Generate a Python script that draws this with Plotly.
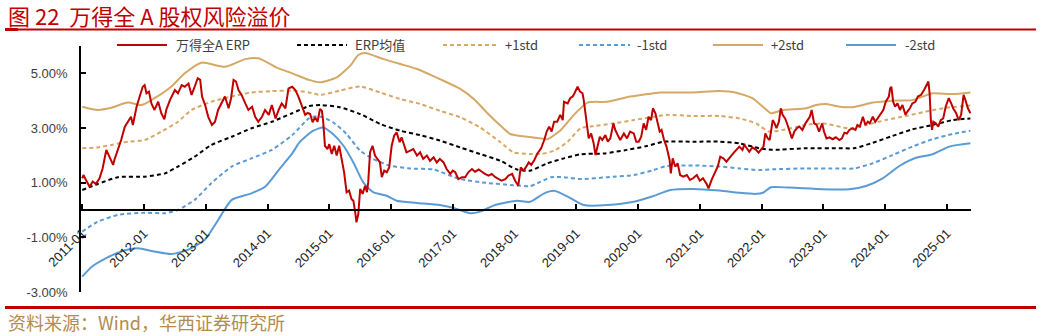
import plotly.graph_objects as go

# ---------------- data (decimal year, % value) ----------------
erp_dates = [
    2011.00, 2011.02, 2011.06, 2011.12, 2011.17, 2011.22, 2011.28, 2011.33, 2011.39, 2011.44,
    2011.50, 2011.52, 2011.58, 2011.63, 2011.69, 2011.74, 2011.79, 2011.82, 2011.88, 2011.93,
    2011.98, 2012.01, 2012.04, 2012.08, 2012.12, 2012.17, 2012.23, 2012.28, 2012.33, 2012.36,
    2012.42, 2012.50, 2012.55, 2012.61, 2012.66, 2012.72, 2012.77, 2012.82, 2012.87, 2012.91,
    2012.94, 2012.99, 2013.04, 2013.10, 2013.15, 2013.20, 2013.26, 2013.31, 2013.37, 2013.41,
    2013.45, 2013.49, 2013.53, 2013.58, 2013.64, 2013.69, 2013.75, 2013.80, 2013.85, 2013.91,
    2013.96, 2014.02, 2014.07, 2014.13, 2014.18, 2014.23, 2014.29, 2014.34, 2014.40, 2014.45,
    2014.50, 2014.56, 2014.61, 2014.65, 2014.69, 2014.73, 2014.77, 2014.81, 2014.85, 2014.88,
    2014.90, 2014.93, 2014.97, 2015.00, 2015.04, 2015.08, 2015.12, 2015.16, 2015.20, 2015.24,
    2015.28, 2015.32, 2015.36, 2015.39, 2015.42, 2015.44, 2015.47, 2015.50, 2015.54, 2015.58,
    2015.61, 2015.63, 2015.66, 2015.70, 2015.74, 2015.78, 2015.82, 2015.85, 2015.89, 2015.93,
    2015.97, 2016.01, 2016.05, 2016.09, 2016.14, 2016.17, 2016.21, 2016.25, 2016.31, 2016.36,
    2016.42, 2016.47, 2016.52, 2016.58, 2016.63, 2016.69, 2016.74, 2016.79, 2016.85, 2016.90,
    2016.96, 2017.00, 2017.04, 2017.09, 2017.15, 2017.20, 2017.25, 2017.31, 2017.36, 2017.42,
    2017.47, 2017.52, 2017.58, 2017.63, 2017.69, 2017.74, 2017.79, 2017.85, 2017.90, 2017.96,
    2018.01, 2018.06, 2018.10, 2018.15, 2018.19, 2018.23, 2018.27, 2018.32, 2018.37, 2018.43,
    2018.48, 2018.52, 2018.56, 2018.60, 2018.64, 2018.69, 2018.74, 2018.78, 2018.80, 2018.86,
    2018.90, 2018.94, 2018.97, 2019.02, 2019.06, 2019.10, 2019.12, 2019.15, 2019.18, 2019.20,
    2019.24, 2019.28, 2019.31, 2019.34, 2019.38, 2019.42, 2019.47, 2019.51, 2019.55, 2019.60,
    2019.63, 2019.67, 2019.71, 2019.77, 2019.82, 2019.87, 2019.93, 2019.97, 2020.01, 2020.05,
    2020.09, 2020.13, 2020.17, 2020.21, 2020.24, 2020.28, 2020.31, 2020.35, 2020.38, 2020.42,
    2020.46, 2020.51, 2020.53, 2020.56, 2020.60, 2020.64, 2020.68, 2020.73, 2020.79, 2020.84,
    2020.89, 2020.95, 2021.00, 2021.05, 2021.11, 2021.14, 2021.19, 2021.24, 2021.29, 2021.33,
    2021.38, 2021.43, 2021.48, 2021.54, 2021.59, 2021.64, 2021.69, 2021.72, 2021.76, 2021.80,
    2021.85, 2021.91, 2021.95, 2021.99, 2022.03, 2022.06, 2022.10, 2022.13, 2022.18, 2022.21,
    2022.24, 2022.28, 2022.31, 2022.34, 2022.38, 2022.42, 2022.46, 2022.49, 2022.53, 2022.57,
    2022.61, 2022.66, 2022.71, 2022.74, 2022.78, 2022.81, 2022.85, 2022.89, 2022.93, 2022.98,
    2023.01, 2023.05, 2023.10, 2023.15, 2023.20, 2023.26, 2023.30, 2023.34, 2023.38, 2023.42,
    2023.47, 2023.52, 2023.55, 2023.59, 2023.64, 2023.68, 2023.72, 2023.75, 2023.80, 2023.84,
    2023.88, 2023.93, 2023.97, 2024.01, 2024.06, 2024.08, 2024.10, 2024.13, 2024.16, 2024.20,
    2024.24, 2024.28, 2024.33, 2024.36, 2024.40, 2024.44, 2024.49, 2024.53, 2024.58, 2024.63,
    2024.67, 2024.70, 2024.72, 2024.74, 2024.76, 2024.78, 2024.82, 2024.86, 2024.90, 2024.94,
    2024.98, 2025.03, 2025.07, 2025.10, 2025.15, 2025.19, 2025.23, 2025.27, 2025.30, 2025.34,
    2025.38,
]
erp_values = [
    1.16, 1.28, 1.10, 0.85, 1.04, 0.95, 1.16, 1.52, 2.20, 1.95,
    1.65, 1.83, 2.20, 2.56, 3.05, 3.23, 3.41, 3.11, 3.78, 4.15,
    4.51, 4.57, 4.27, 4.33, 3.90, 3.66, 3.96, 3.54, 3.32, 3.66,
    4.02, 4.39, 4.27, 4.57, 4.51, 4.63, 4.21, 4.51, 4.82, 4.76,
    4.15, 3.84, 3.41, 3.11, 3.23, 3.66, 3.90, 4.15, 3.72, 4.09,
    4.76, 4.70, 4.39, 4.21, 3.90, 3.66, 3.78, 3.41, 3.23, 3.41,
    3.66, 3.48, 3.84, 3.35, 3.66, 3.90, 3.72, 4.45, 4.51, 4.39,
    4.15, 3.78, 3.48, 3.55, 3.51, 3.21, 3.39, 3.23, 3.70, 3.63,
    3.27, 2.35, 2.23, 2.41, 2.05, 2.35, 1.99, 2.35, 1.87, 1.38,
    0.65, 0.71, 0.40, 0.34, -0.09, -0.45, -0.15, 0.77, 0.59, 0.89,
    0.65, 1.01, 2.11, 2.35, 1.99, 1.87, 1.74, 1.20, 1.44, 1.38,
    1.56, 2.35, 2.72, 2.84, 2.48, 2.66, 2.41, 2.11, 2.17, 2.23,
    1.99, 2.11, 1.87, 1.99, 1.80, 1.93, 1.74, 1.87, 1.74, 1.50,
    1.32, 1.44, 1.38, 1.13, 1.20, 1.20, 1.38, 1.50, 1.40, 1.48,
    1.40, 1.32, 1.26, 1.32, 1.20, 1.13, 1.07, 1.13, 1.26, 1.32,
    1.07, 0.89, 1.56, 1.44, 1.62, 1.74, 1.65, 1.83, 2.07, 2.26,
    2.56, 2.87, 3.05, 2.87, 3.23, 3.23, 3.48, 3.29, 3.96, 3.90,
    4.09, 4.15, 4.27, 4.51, 4.33, 4.27, 4.02, 3.48, 2.87, 2.62,
    2.80, 2.44, 2.01, 2.32, 2.68, 2.56, 2.74, 2.50, 2.62, 3.17,
    2.93, 2.74, 2.56, 2.80, 2.62, 2.87, 2.80, 2.50, 2.50, 2.68,
    3.17, 2.93, 3.41, 3.29, 3.72, 3.54, 3.29, 2.87, 2.93, 2.56,
    2.32, 1.83, 1.34, 1.89, 1.59, 1.71, 1.28, 1.22, 1.28, 1.10,
    1.16, 1.28, 1.07, 1.16, 0.95, 0.79, 1.10, 1.34, 1.59, 1.95,
    1.89, 1.77, 1.89, 2.07, 2.20, 2.32, 2.20, 2.38, 2.26, 2.13,
    2.29, 2.20, 2.10, 2.22, 2.32, 2.80, 2.62, 2.56, 3.29, 3.17,
    2.99, 3.23, 3.72, 3.48, 3.35, 3.11, 2.87, 2.62, 2.87, 2.99,
    3.05, 2.93, 3.17, 3.29, 3.41, 3.66, 3.17, 3.11, 2.87, 3.17,
    2.87, 2.62, 2.66, 2.59, 2.66, 2.56, 2.62, 2.83, 2.80, 2.93,
    2.99, 2.93, 3.11, 3.05, 3.41, 3.11, 3.23, 3.17, 3.41, 3.23,
    3.35, 3.54, 3.66, 3.96, 4.15, 4.45, 4.51, 3.96, 3.78, 3.90,
    3.66, 3.84, 3.48, 3.60, 3.72, 3.90, 3.96, 4.15, 4.21, 4.39,
    4.57, 4.70, 4.27, 3.29, 2.93, 3.23, 3.17, 3.05, 3.29, 3.35,
    3.78, 4.09, 3.90, 3.72, 3.54, 3.29, 3.48, 4.21, 4.02, 3.72,
    3.54,
]

mean_dates = [2011.00, 2011.25, 2011.58, 2012.01, 2012.34, 2012.55, 2012.82, 2013.09, 2013.42, 2013.74,
              2014.07, 2014.40, 2014.67, 2014.85, 2015.17, 2015.50, 2015.82, 2016.15, 2016.47, 2016.79,
              2017.12, 2017.44, 2017.77, 2018.04, 2018.25, 2018.53, 2018.80, 2019.07, 2019.45, 2019.82,
              2020.14, 2020.41, 2020.89, 2021.32, 2021.64, 2021.96, 2022.18, 2022.72, 2023.26, 2023.50,
              2023.80, 2024.12, 2024.44, 2024.77, 2025.09, 2025.38]
mean_values = [0.73, 0.95, 1.20, 1.22, 1.34, 1.59, 1.95, 2.38, 2.68, 2.99,
               3.23, 3.54, 3.80, 3.84, 3.76, 3.51, 3.15, 2.90, 2.74, 2.54,
               2.29, 2.05, 1.80, 1.48, 1.44, 1.71, 1.89, 2.04, 2.07, 2.20,
               2.34, 2.50, 2.50, 2.50, 2.44, 2.26, 2.20, 2.26, 2.26, 2.26,
               2.46, 2.71, 2.95, 3.11, 3.29, 3.35]

plus1_dates = [2011.00, 2011.25, 2011.47, 2011.74, 2012.01, 2012.28, 2012.55, 2012.77, 2013.09, 2013.42,
               2013.74, 2014.07, 2014.40, 2014.67, 2014.85, 2015.17, 2015.50, 2015.82, 2016.15, 2016.47,
               2016.79, 2017.12, 2017.44, 2017.77, 2017.98, 2018.25, 2018.43, 2018.64, 2018.86, 2019.07,
               2019.28, 2019.61, 2019.93, 2020.25, 2020.46, 2020.89, 2021.32, 2021.64, 2021.91, 2022.12,
               2022.34, 2022.72, 2022.99, 2023.42, 2023.69, 2024.01, 2024.34, 2024.66, 2024.98, 2025.38]
plus1_values = [2.26, 2.29, 2.38, 2.50, 2.56, 2.87, 3.23, 3.66, 3.96, 4.15,
                4.30, 4.35, 4.37, 4.30, 4.21, 4.37, 4.52, 4.30, 4.06, 3.88,
                3.63, 3.39, 3.02, 2.48, 2.11, 2.05, 2.05, 2.17, 2.50, 2.99,
                3.07, 3.17, 3.29, 3.41, 3.48, 3.44, 3.44, 3.35, 3.17, 2.87,
                2.93, 3.11, 3.17, 2.99, 3.11, 3.29, 3.44, 3.60, 3.74, 3.82]

minus1_dates = [2011.00, 2011.25, 2011.58, 2012.01, 2012.34, 2012.55, 2012.82, 2013.09, 2013.42, 2013.74,
                2014.07, 2014.40, 2014.67, 2014.79, 2014.90, 2015.06, 2015.28, 2015.50, 2015.71, 2015.98,
                2016.31, 2016.69, 2017.12, 2017.55, 2017.98, 2018.25, 2018.37, 2018.59, 2018.80, 2019.07,
                2019.50, 2019.93, 2020.25, 2020.46, 2020.89, 2021.32, 2021.64, 2021.96, 2022.18, 2022.72,
                2023.26, 2023.50, 2023.80, 2024.12, 2024.44, 2024.77, 2025.09, 2025.38]
minus1_values = [-0.79, -0.43, -0.18, -0.10, -0.12, 0.00, 0.37, 0.98, 1.59, 1.89,
                 2.20, 2.74, 3.35, 3.43, 3.39, 3.21, 2.78, 2.17, 1.87, 1.62,
                 1.52, 1.48, 1.13, 0.99, 0.91, 0.87, 0.98, 1.20, 1.20, 1.13,
                 1.20, 1.28, 1.46, 1.61, 1.63, 1.59, 1.52, 1.46, 1.49, 1.52,
                 1.52, 1.52, 1.71, 2.01, 2.32, 2.59, 2.78, 2.90]

plus2_dates = [2011.00, 2011.25, 2011.47, 2011.74, 2011.96, 2012.17, 2012.44, 2012.66, 2012.93, 2013.31,
               2013.64, 2013.85, 2014.18, 2014.40, 2014.67, 2014.85, 2015.12, 2015.34, 2015.47, 2015.58,
               2015.88, 2016.15, 2016.42, 2016.79, 2017.12, 2017.34, 2017.55, 2017.77, 2017.93, 2018.10,
               2018.43, 2018.53, 2018.75, 2018.96, 2019.18, 2019.50, 2019.87, 2020.25, 2020.36, 2020.89,
               2021.32, 2021.59, 2021.85, 2022.02, 2022.15, 2022.34, 2022.72, 2022.88, 2023.05, 2023.26,
               2023.47, 2023.80, 2024.12, 2024.44, 2024.77, 2025.09, 2025.38]
plus2_values = [3.78, 3.66, 3.74, 3.93, 3.84, 4.09, 4.51, 5.00, 5.39, 5.24,
                5.52, 5.55, 5.18, 5.00, 4.76, 4.67, 4.85, 5.28, 5.67, 5.74,
                5.52, 5.34, 5.16, 4.79, 4.43, 4.06, 3.57, 3.09, 2.78, 2.71,
                2.62, 2.59, 2.93, 3.48, 3.93, 3.96, 4.15, 4.27, 4.30, 4.30,
                4.35, 4.29, 4.09, 3.78, 3.54, 3.66, 3.72, 3.84, 3.88, 3.78,
                3.76, 3.93, 4.00, 4.02, 4.27, 4.24, 4.30]

minus2_dates = [2011.00, 2011.16, 2011.38, 2011.63, 2011.90, 2012.17, 2012.44, 2012.71, 2012.98, 2013.20,
                2013.42, 2013.74, 2013.96, 2014.18, 2014.40, 2014.52, 2014.74, 2014.90, 2015.06, 2015.23,
                2015.39, 2015.55, 2015.71, 2015.93, 2016.09, 2016.42, 2016.79, 2017.06, 2017.28, 2017.44,
                2017.66, 2017.88, 2018.04, 2018.25, 2018.48, 2018.64, 2018.86, 2019.12, 2019.50, 2019.93,
                2020.25, 2020.52, 2020.89, 2021.32, 2021.64, 2021.91, 2022.02, 2022.15, 2022.45, 2022.99,
                2023.42, 2023.69, 2023.96, 2024.23, 2024.50, 2024.77, 2025.04, 2025.38]
minus2_values = [-2.44, -2.07, -1.77, -1.52, -1.40, -1.52, -1.61, -1.46, -1.10, -0.37,
                 0.37, 0.61, 0.85, 1.46, 2.07, 2.48, 2.90, 3.02, 2.78, 2.35,
                 1.74, 1.01, 0.65, 0.52, 0.34, 0.26, 0.18, 0.04, -0.12, -0.06,
                 0.16, 0.28, 0.34, 0.30, 0.61, 0.70, 0.49, 0.18, 0.18, 0.30,
                 0.51, 0.73, 0.77, 0.71, 0.63, 0.59, 0.63, 0.83, 0.82, 0.76,
                 0.76, 0.88, 1.16, 1.61, 1.91, 2.04, 2.32, 2.44]

x_tick_years = list(range(2011, 2026))
x_tick_labels = [f"{y}-01" for y in x_tick_years]
y_tick_vals = [-3, -1, 1, 3, 5]
y_tick_labels = ["-3.00%", "-1.00%", "1.00%", "3.00%", "5.00%"]

# ---------------- styling ----------------
RED = "#C00000"
TAN = "#D6A866"
BLUE = "#5B9BD5"
DASH = "4px,3px"

W, H = 1053, 336
ML, MR, MT, MB = 81, 82, 46, 44
PW, PH = W - ML - MR, H - MT - MB


def px(x):
    return (x - ML) / PW


def py(y):
    return (H - MB - y) / PH


fig = go.Figure()

bands = [
    (plus2_dates, plus2_values, TAN, "solid", "+2std"),
    (minus2_dates, minus2_values, BLUE, "solid", "-2std"),
    (plus1_dates, plus1_values, TAN, DASH, "+1std"),
    (minus1_dates, minus1_values, BLUE, DASH, "-1std"),
    (mean_dates, mean_values, "#000000", DASH, "ERP均值"),
]
for xs, ys, color, dash, name in bands:
    fig.add_trace(go.Scatter(
        x=xs, y=ys, name=name, mode="lines",
        line=dict(color=color, width=2, dash=dash, shape="spline", smoothing=0.6),
        hoverinfo="skip",
    ))

fig.add_trace(go.Scatter(
    x=erp_dates, y=erp_values, name="万得全A ERP", mode="lines",
    line=dict(color=RED, width=2),
))

fig.update_layout(
    width=W, height=H,
    margin=dict(l=ML, r=MR, t=MT, b=MB),
    paper_bgcolor="white", plot_bgcolor="white",
    showlegend=False,
    xaxis=dict(
        range=[2010.98, 2025.39],
        tickvals=x_tick_years, ticktext=x_tick_labels,
        tickangle=-45,
        anchor="free", position=1 / 3,
        showline=True, linecolor="black", linewidth=1.5,
        ticks="inside", ticklen=5, tickwidth=1.5, tickcolor="black",
        ticklabelstandoff=10,
        showgrid=False, zeroline=False,
        tickfont=dict(family="Liberation Sans, Arial", size=13, color="#222222"),
    ),
    yaxis=dict(
        range=[-3, 6],
        tickvals=y_tick_vals, ticktext=y_tick_labels,
        showline=True, linecolor="black", linewidth=1.5,
        ticks="inside", ticklen=5, tickwidth=1.5, tickcolor="black",
        ticklabelstandoff=9,
        showgrid=False, zeroline=False,
        tickfont=dict(family="Liberation Sans, Arial", size=13, color="#404040"),
    ),
)

# manual legend row
legend_items = [
    (117, 167, RED, "solid", "万得全A ERP", 174),
    (297, 347, "#000000", "dash", "ERP均值", 353),
    (443, 497, TAN, "dash", "+1std", 503),
    (579, 630, BLUE, "dash", "-1std", 635),
    (713, 763, TAN, "solid", "+2std", 769),
    (846, 896, BLUE, "solid", "-2std", 903),
]
shapes = []
annotations = []
LEG_Y = 45
for x0, x1, color, dash, label, tx in legend_items:
    shapes.append(dict(type="line", xref="paper", yref="paper",
                       x0=px(x0), x1=px(x1), y0=py(LEG_Y), y1=py(LEG_Y),
                       line=dict(color=color, width=2, dash=DASH if dash == "dash" else "solid")))
    annotations.append(dict(xref="paper", yref="paper", x=px(tx), y=py(LEG_Y),
                            xanchor="left", yanchor="middle", showarrow=False, text=label,
                            font=dict(family="Noto Sans CJK SC", size=13, color="#404040")))

# header and footer rules
shapes.append(dict(type="line", xref="paper", yref="paper", x0=px(5), x1=px(1036),
                   y0=py(29.5), y1=py(29.5), line=dict(color=RED, width=2)))
shapes.append(dict(type="rect", xref="paper", yref="paper", x0=px(5), x1=px(18),
                   y0=py(31), y1=py(28), line=dict(width=0), fillcolor=RED))
shapes.append(dict(type="line", xref="paper", yref="paper", x0=px(5), x1=px(1036),
                   y0=py(307.5), y1=py(307.5), line=dict(color=RED, width=3)))

annotations.append(dict(xref="paper", yref="paper", x=px(6), y=py(15),
                        xanchor="left", yanchor="middle", showarrow=False,
                        text="图 22  万得全 A 股权风险溢价",
                        font=dict(family="Noto Sans CJK SC", size=22, color=RED)))
annotations.append(dict(xref="paper", yref="paper", x=px(6), y=py(322),
                        xanchor="left", yanchor="middle", showarrow=False,
                        text="资料来源：Wind，华西证券研究所",
                        font=dict(family="Noto Sans CJK SC", size=18, color="#B38B4D")))

fig.update_layout(shapes=shapes, annotations=annotations)

fig.write_html("out.html")
